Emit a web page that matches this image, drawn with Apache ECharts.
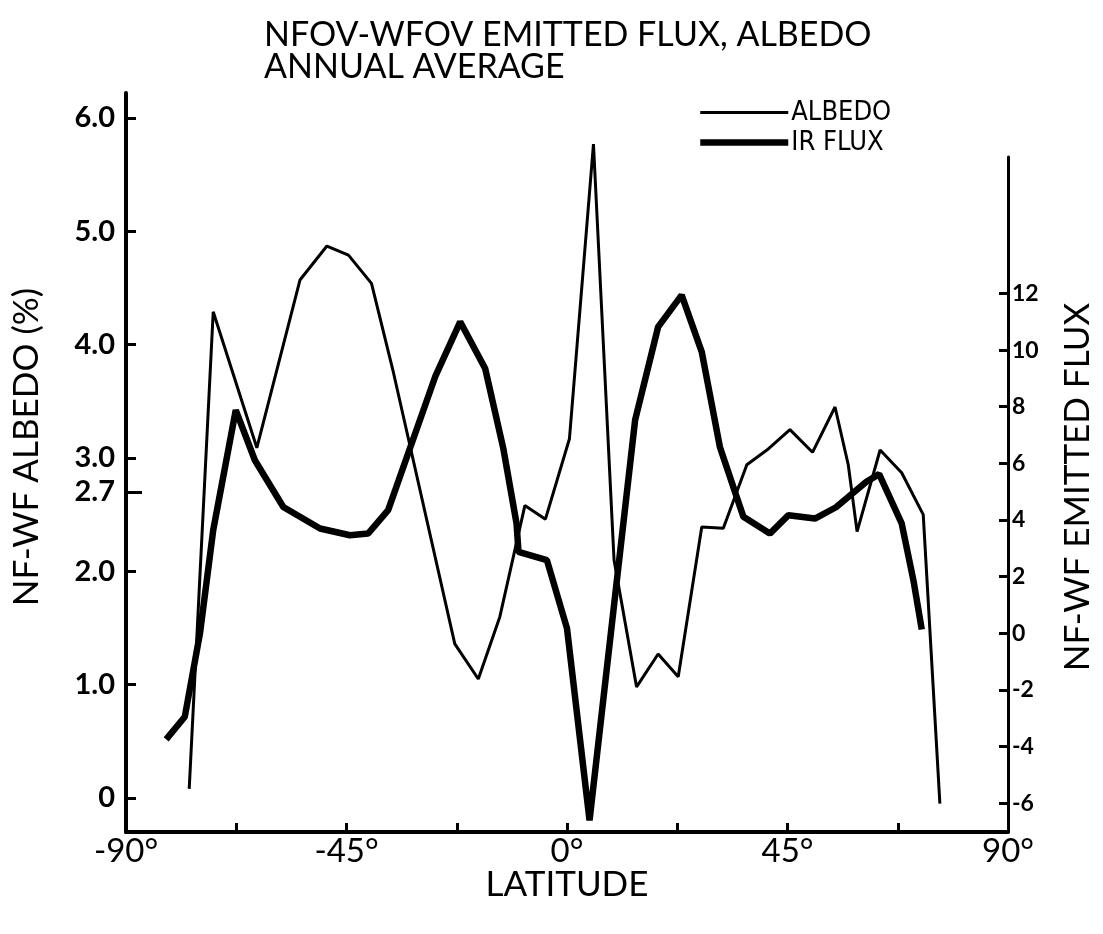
<!DOCTYPE html>
<html>
<head>
<meta charset="utf-8">
<script src="https://cdn.jsdelivr.net/npm/echarts@6/dist/echarts.min.js"></script>
<style>
  html, body { margin: 0; padding: 0; background: #fff; }
  #chart { width: 1103px; height: 934px; }
</style>
</head>
<body>
<div id="chart"></div>
<script>
// latitude (deg) and NF-WF albedo (%)
const albedoLat = [-77.1, -72.2, -63.3, -54.5, -49.0, -44.6, -39.9, -35.4, -22.9, -18.1, -13.7, -8.6, -4.4, 0.5, 5.4, 9.6, 14.2, 18.6, 22.7, 27.5, 31.9, 36.7, 40.8, 45.5, 50.1, 54.7, 57.4, 59.2, 63.9, 68.3, 72.7, 76.1];
const albedo = [0.08, 4.29, 3.09, 4.57, 4.87, 4.79, 4.54, 3.75, 1.36, 1.05, 1.6, 2.58, 2.46, 3.17, 5.77, 2.1, 0.98, 1.27, 1.07, 2.39, 2.38, 2.94, 3.07, 3.25, 3.05, 3.45, 2.94, 2.35, 3.07, 2.87, 2.5, -0.05];

// latitude (deg) and NF-WF emitted flux
const irLat = [-81.8, -78.0, -74.9, -72.2, -67.6, -63.7, -57.9, -50.4, -44.3, -40.6, -36.5, -26.9, -21.8, -16.7, -13.0, -10.3, -9.9, -4.1, 0.0, 4.6, 13.9, 18.6, 23.4, 27.5, 31.2, 36.0, 41.4, 45.2, 50.6, 54.9, 61.1, 63.7, 68.3, 70.7, 72.4];
const irFlux = [-3.75, -2.95, 0.0, 3.64, 7.88, 6.11, 4.46, 3.7, 3.46, 3.52, 4.35, 9.06, 11.0, 9.35, 6.53, 3.88, 2.87, 2.58, 0.17, -6.61, 7.53, 10.82, 11.94, 9.94, 6.58, 4.11, 3.52, 4.17, 4.05, 4.45, 5.35, 5.62, 3.88, 1.87, 0.13];

// tick labels
const latLabels = [-90, -45, 0, 45, 90];
const latTicks = [-67.5, -45, -22.5, 0, 22.5, 45, 67.5];
const albedoTicks = [0, 1.0, 2.0, 3.0, 4.0, 5.0, 6.0];
const albedoLabels = [0, 1.0, 2.0, 2.7, 3.0, 4.0, 5.0, 6.0];
const fluxTicks = [-6, -4, -2, 0, 2, 4, 6, 8, 10, 12];

const font = 'Lato';

const chart = echarts.init(document.getElementById('chart'));

const tickStyle = { color: '#000', width: 3 };

const option = {
    backgroundColor: '#fff',
    animation: false,
    title: {
        text: 'NFOV-WFOV EMITTED FLUX, ALBEDO\nANNUAL AVERAGE',
        left: 259,
        top: 14,
        textStyle: {
            fontFamily: font,
            fontSize: 34,
            fontWeight: 'normal',
            color: '#000',
            lineHeight: 32
        }
    },
    legend: {
        orient: 'vertical',
        left: 692,
        top: 94,
        itemWidth: 88,
        itemHeight: 18,
        itemGap: 3,
        itemStyle: { opacity: 0 },
        textStyle: {
            fontFamily: 'DejaVu Sans Condensed',
            fontSize: 27,
            color: '#000',
            padding: [0, 0, 0, -2]
        },
        data: [
            { name: 'ALBEDO', lineStyle: { width: 3 } },
            { name: 'IR FLUX', lineStyle: { width: 6.5 } }
        ]
    },
    grid: [
        { left: 126, right: 95, top: 93, bottom: 102 },
        { left: 126, right: 95, top: 157, bottom: 102 }
    ],
    graphic: [
        {
            type: 'text',
            x: 27,
            y: 447,
            rotation: Math.PI / 2,
            style: {
                text: 'NF-WF ALBEDO (%)',
                font: '35px ' + font,
                fill: '#000',
                textAlign: 'center',
                textVerticalAlign: 'middle'
            }
        },
        {
            type: 'text',
            x: 1078,
            y: 487,
            rotation: Math.PI / 2,
            style: {
                text: 'NF-WF EMITTED FLUX',
                font: '35px ' + font,
                fill: '#000',
                textAlign: 'center',
                textVerticalAlign: 'middle'
            }
        },
        {
            type: 'text',
            x: 567,
            y: 885,
            style: {
                text: 'LATITUDE',
                font: '35px ' + font,
                fill: '#000',
                textAlign: 'center',
                textVerticalAlign: 'middle'
            }
        }
    ],
    xAxis: [
        {
            type: 'value',
            gridIndex: 0,
            min: -90,
            max: 90,
            axisLine: { onZero: false, lineStyle: { color: '#000', width: 4 } },
            axisTick: {
                customValues: latTicks,
                inside: true,
                length: 9,
                lineStyle: tickStyle
            },
            axisLabel: {
                customValues: latLabels,
                formatter: v => v + '°',
                fontFamily: font,
                fontSize: 33,
                color: '#000',
                margin: 3
            },
            splitLine: { show: false }
        },
        {
            type: 'value',
            gridIndex: 1,
            min: -90,
            max: 90,
            show: false
        }
    ],
    yAxis: [
        {
            type: 'value',
            gridIndex: 0,
            position: 'left',
            min: -0.3,
            max: 6.22,
            axisLine: { show: true, onZero: false, lineStyle: { color: '#000', width: 4 } },
            axisTick: {
                show: true,
                customValues: albedoTicks,
                inside: true,
                length: 10,
                lineStyle: tickStyle
            },
            axisLabel: {
                customValues: albedoLabels,
                formatter: v => (v === 0 ? '0' : v.toFixed(1)),
                fontFamily: font,
                fontWeight: 'bold',
                fontSize: 29,
                color: '#000',
                margin: 11
            },
            splitLine: { show: false }
        },
        {
            type: 'value',
            gridIndex: 1,
            position: 'right',
            min: -7.02,
            max: 16.82,
            axisLine: { show: true, onZero: false, lineStyle: { color: '#000', width: 3 } },
            axisTick: {
                show: true,
                customValues: fluxTicks,
                inside: true,
                length: 9,
                lineStyle: tickStyle
            },
            axisLabel: {
                customValues: fluxTicks,
                fontFamily: font,
                fontWeight: 'bold',
                fontSize: 23,
                color: '#000',
                margin: 4
            },
            splitLine: { show: false }
        },
        {
            // longer tick for the 2.7 mark
            type: 'value',
            gridIndex: 0,
            position: 'left',
            min: -0.3,
            max: 6.22,
            axisLine: { show: false, onZero: false },
            axisTick: {
                show: true,
                customValues: [2.7],
                inside: true,
                length: 16,
                lineStyle: tickStyle
            },
            axisLabel: { show: false },
            splitLine: { show: false }
        }
    ],
    series: [
        {
            name: 'ALBEDO',
            type: 'line',
            xAxisIndex: 0,
            yAxisIndex: 0,
            symbol: 'none',
            lineStyle: { color: '#000', width: 3 },
            itemStyle: { color: '#000' },
            data: albedoLat.map((lat, i) => [lat, albedo[i]])
        },
        {
            name: 'IR FLUX',
            type: 'line',
            xAxisIndex: 1,
            yAxisIndex: 1,
            symbol: 'none',
            lineStyle: { color: '#000', width: 6.5 },
            itemStyle: { color: '#000' },
            data: irLat.map((lat, i) => [lat, irFlux[i]])
        }
    ]
};

chart.setOption(option);
</script>
</body>
</html>
